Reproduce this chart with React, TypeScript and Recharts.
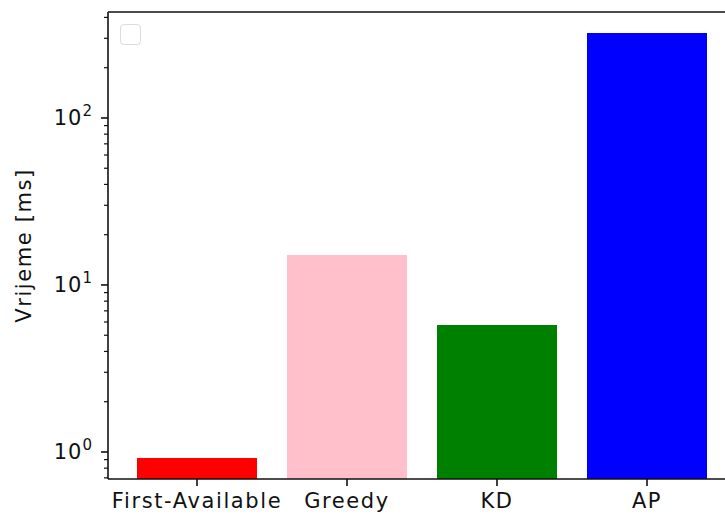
import React from 'react';
import { BarChart, Bar, Cell, XAxis, YAxis, ReferenceLine } from 'recharts';

const methods = ['First-Available', 'Greedy', 'KD', 'AP'];
const timesMs = [0.92, 15.1, 5.76, 323];
const barColors = ['#ff0000', '#ffc0cb', '#008000', '#0000ff'];

const yDomain = [0.689, 431];
const majorTicks = [1, 10, 100];
const minorTicks = [0.7, 0.8, 0.9, 2, 3, 4, 5, 6, 7, 8, 9, 20, 30, 40, 50, 60, 70, 80, 90, 200, 300, 400];
const exponents: Record<number, string> = { 1: '0', 10: '1', 100: '2' };

const FONT = '"DejaVu Sans", sans-serif';
const INK = '#111';

const data = methods.map((name, i) => ({ name, time: timesMs[i] }));

function XTick({ x, y, payload }: any) {
  return (
    <g>
      <line x1={x} x2={x} y1={y} y2={y + 7} stroke={INK} strokeWidth={1.6} />
      <text x={x} y={y + 29} textAnchor="middle" fontFamily={FONT} fontSize={21} letterSpacing={1.6} fill={INK}>
        {payload.value}
      </text>
    </g>
  );
}

function YTick({ x, y, payload }: any) {
  const v = payload.value;
  const major = majorTicks.includes(v);
  return (
    <g>
      <line x1={x - (major ? 7 : 4)} x2={x} y1={y} y2={y} stroke={INK} strokeWidth={major ? 1.6 : 1.2} />
      {major && (
        <text x={x - 15} y={y + 7.5} textAnchor="end" fontFamily={FONT} fontSize={21} letterSpacing={1} fill={INK}>
          10
          <tspan dy={-9} fontSize={15}>{exponents[v]}</tspan>
        </text>
      )}
    </g>
  );
}

function YLabel({ viewBox }: any) {
  const cy = viewBox ? viewBox.y + viewBox.height / 2 : 245;
  return (
    <text
      x={31}
      y={cy}
      transform={`rotate(-90, 31, ${cy})`}
      textAnchor="middle"
      fontFamily={FONT}
      fontSize={21}
      letterSpacing={1.6}
      fill={INK}
    >
      Vrijeme [ms]
    </text>
  );
}

export default function App() {
  return (
    <div style={{ position: 'absolute', left: 0, top: 0, width: 725, height: 517, overflow: 'hidden', background: '#fff' }}>
      <BarChart
        width={746}
        height={517}
        data={data}
        margin={{ top: 12, right: 10, bottom: 0, left: 0 }}
        barCategoryGap="10%"
      >
        <XAxis
          dataKey="name"
          height={38}
          padding={{ left: 14, right: 14 }}
          axisLine={{ stroke: INK, strokeWidth: 1.6 }}
          tickLine={false}
          tickSize={0}
          tickMargin={0}
          interval={0}
          tick={<XTick />}
        />
        <YAxis
          type="number"
          scale="log"
          domain={yDomain}
          allowDataOverflow
          ticks={[...minorTicks, ...majorTicks].sort((a, b) => a - b)}
          interval={0}
          width={108}
          axisLine={{ stroke: INK, strokeWidth: 1.6 }}
          tickLine={false}
          tickSize={0}
          tickMargin={0}
          tick={<YTick />}
          label={<YLabel />}
        />
        <Bar dataKey="time" isAnimationActive={false}>
          {data.map((d, i) => (
            <Cell key={d.name} fill={barColors[i]} />
          ))}
        </Bar>
        <ReferenceLine y={yDomain[1]} stroke={INK} strokeWidth={1.6} ifOverflow="visible" />
      </BarChart>
      <div
        style={{
          position: 'absolute',
          left: 120,
          top: 24,
          width: 21,
          height: 21,
          border: '1.5px solid #dcdcdc',
          borderRadius: 4,
          boxSizing: 'border-box',
        }}
      />
    </div>
  );
}
